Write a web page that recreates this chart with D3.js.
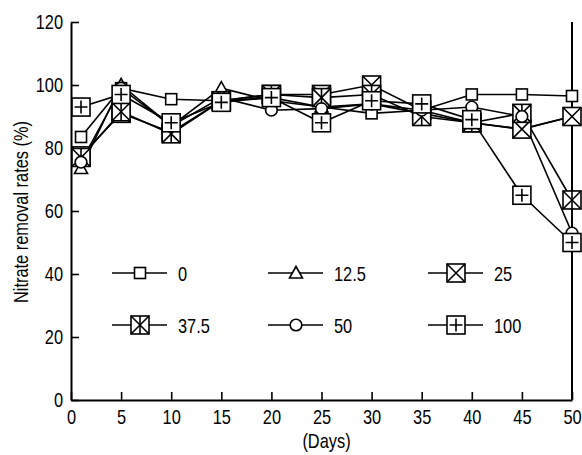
<!DOCTYPE html>
<html>
<head>
<meta charset="utf-8">
<script src="https://cdn.jsdelivr.net/npm/d3@7"></script>
<style>
  html, body { margin: 0; padding: 0; background: #fff; }
  svg { display: block; }
  text { font-family: "Liberation Sans", Arial, sans-serif; fill: #000; }
</style>
</head>
<body>
<svg id="chart" width="582" height="455"></svg>
<script>
// ---- data ----
const days = [1, 5, 10, 15, 20, 25, 30, 35, 40, 45, 50];
const seriesNames = ["0", "12.5", "25", "37.5", "50", "100"];
const s0    = [83.5, 99, 95.5, 95, 96, 93, 91, 92, 97, 97, 96.5];
const s12_5 = [73.5, 100, 87, 99, 95, 93, 94, 91, 88, 86, 90];
const s25   = [77.5, 91, 85, 95, 97, 97, 100, 92, 88, 86, 90];
const s37_5 = [77, 91.5, 84.5, 95, 97, 96, 97, 90, 88, 91, 63.5];
const s50   = [75.5, 99, 87, 96, 92, 92.5, 94, 92, 93, 90, 53];
const s100  = [93, 97, 88, 94.5, 96, 88, 95, 94, 89, 65, 50];
const xTicks = [0, 5, 10, 15, 20, 25, 30, 35, 40, 45, 50];
const yTicks = [0, 20, 40, 60, 80, 100, 120];
const xTitle = "(Days)";
const yTitle = "Nitrate removal rates (%)";

const seriesValues = [s0, s12_5, s25, s37_5, s50, s100];
const markerTypes = ["square", "triangle", "xbox", "starbox", "circle", "plusbox"];

// ---- layout ----
const svg = d3.select("#chart");
const mL = 71, mR = 572, mT = 22, mB = 400;
const FS = 20, SX = 0.82;

const x = d3.scaleLinear().domain([0, 50]).range([mL, mR]);
const y = d3.scaleLinear().domain([0, 120]).range([mB, mT]);

// axes
const gx = svg.append("g").attr("transform", `translate(0,${mB})`)
  .call(d3.axisBottom(x).tickValues(xTicks).tickSizeInner(-8).tickSizeOuter(0).tickPadding(10));
const gy = svg.append("g").attr("transform", `translate(${mL},0)`)
  .call(d3.axisLeft(y).tickValues(yTicks).tickSizeInner(-8).tickSizeOuter(0).tickPadding(8));
[gx, gy].forEach(g => {
  g.select(".domain").attr("stroke", "#000").attr("stroke-width", 2);
  g.selectAll(".tick line").attr("stroke", "#000").attr("stroke-width", 1.6);
  g.selectAll(".tick text").attr("font-size", FS).attr("fill", "#000")
    .attr("font-family", "Liberation Sans, Arial, sans-serif");
});
gx.selectAll(".tick text").attr("transform", `scale(${SX},1)`);
gy.selectAll(".tick text").attr("x", -8 / SX).attr("transform", `scale(${SX},1)`);
// right frame line
svg.append("line").attr("x1", mR).attr("x2", mR).attr("y1", mT).attr("y2", mB)
  .attr("stroke", "#000").attr("stroke-width", 2);

// titles
svg.append("text").attr("transform", `translate(${(mL + mR) / 2 + 5},448) scale(${SX},1)`)
  .attr("text-anchor", "middle").attr("font-size", FS).text(xTitle);
svg.append("text").attr("transform", `translate(28,212) rotate(-90) scale(${SX},1)`)
  .attr("text-anchor", "middle").attr("font-size", FS).text(yTitle);

// marker drawing
function drawMarker(g, type, cx, cy) {
  const m = g.append("g").attr("transform", `translate(${cx},${cy})`)
    .attr("fill", "#fff").attr("stroke", "#000").attr("stroke-width", 1.6);
  const B = 9;
  if (type === "square") {
    m.append("rect").attr("x", -5.5).attr("y", -5.5).attr("width", 11).attr("height", 11);
  } else if (type === "triangle") {
    m.append("path").attr("d", "M0,-6.5L6.5,5L-6.5,5Z");
  } else if (type === "circle") {
    m.append("circle").attr("r", 5.8);
  } else {
    m.append("rect").attr("x", -B).attr("y", -B).attr("width", 2 * B).attr("height", 2 * B);
    if (type === "xbox" || type === "starbox") {
      m.append("path").attr("d", `M${-B},${-B}L${B},${B}M${B},${-B}L${-B},${B}`).attr("fill", "none");
    }
    if (type === "starbox") {
      m.append("path").attr("d", `M0,${-B}L0,${B}`).attr("fill", "none");
    }
    if (type === "plusbox") {
      m.append("path").attr("d", `M0,-6.5L0,6.5M-6.5,0L6.5,0`).attr("fill", "none");
    }
  }
}

const line = d3.line().x(d => x(d[0])).y(d => y(d[1]));
const plot = svg.append("g");
seriesValues.forEach(vals => {
  plot.append("path").datum(days.map((d, i) => [d, vals[i]]))
    .attr("d", line).attr("fill", "none").attr("stroke", "#000").attr("stroke-width", 1.6);
});
seriesValues.forEach((vals, si) => {
  days.forEach((d, i) => drawMarker(plot, markerTypes[si], x(d), y(vals[i])));
});

// legend
const legendCols = [140, 296, 456];
const legendRows = [273, 325];
seriesNames.forEach((name, i) => {
  const cx = legendCols[i % 3], cy = legendRows[Math.floor(i / 3)];
  const lg = svg.append("g");
  lg.append("line").attr("x1", cx - 28).attr("x2", cx + 27).attr("y1", cy).attr("y2", cy)
    .attr("stroke", "#000").attr("stroke-width", 1.6);
  drawMarker(lg, markerTypes[i], cx, cy);
  lg.append("text").attr("transform", `translate(${cx + 38},${cy + 7.5}) scale(${SX},1)`)
    .attr("font-size", FS).text(name);
});
</script>
</body>
</html>
